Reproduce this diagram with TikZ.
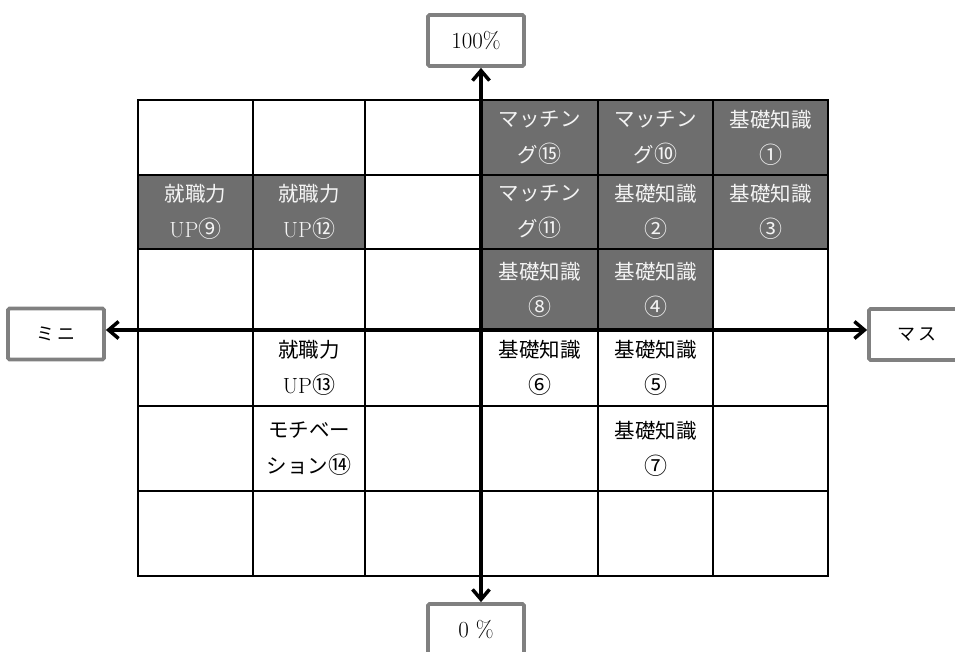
\documentclass[tikz,border=0pt]{standalone}
\usepackage{fontspec}
\newfontfamily\jp{Noto Sans CJK JP}
\usetikzlibrary{arrows.meta}
\definecolor{cellgray}{HTML}{6E6E6E}
\definecolor{boxgray}{HTML}{808080}
\definecolor{celltext}{HTML}{F4F4F4}
\newcommand\cnum[1]{{\fontsize{23}{36}\selectfont #1}}
\newcommand\up{{\normalfont\fontsize{22}{36}\selectfont UP}}
\begin{document}
\begin{tikzpicture}[x=1pt,y=-1pt,
  cell/.style={draw=black,line width=1.2pt,inner sep=0pt,outer sep=0pt,align=center,
    font=\jp\fontsize{20.5}{36}\selectfont},
  dark/.style={fill=cellgray,text=celltext},
  lbl/.style={draw=boxgray,line width=3.8pt,rounded corners=1.5pt,fill=white,inner sep=0pt,
    minimum width=96pt,minimum height=51pt,font=\fontsize{23}{26}\selectfont},
  thickline/.style={line width=2.4pt},
  axis/.style={line width=3.5pt,{Straight Barb[length=10pt,width=17pt]}-{Straight Barb[length=10pt,width=17pt]}}]
\useasboundingbox (0,0) rectangle (955,651);
\fill[white] (0,0) rectangle (955,651);
% columns: 138,253,365,481,598,713,828 ; rows: 100,175,249,330,406,491,576
\tikzset{
  r1/.style={minimum height=75pt}, r2/.style={minimum height=74pt},
  r3/.style={minimum height=81pt}, r4/.style={minimum height=76pt},
  r5/.style={minimum height=85pt}, r6/.style={minimum height=85pt},
  k1/.style={minimum width=115pt}, k2/.style={minimum width=112pt},
  k3/.style={minimum width=116pt}, k4/.style={minimum width=117pt},
  k5/.style={minimum width=115pt}, k6/.style={minimum width=115pt}}
% row 1
\node[cell,r1,k1] (c11) at (195.5,137.5) {};
\node[cell,r1,k2] (c12) at (309,137.5) {};
\node[cell,r1,k3] (c13) at (423,137.5) {};
\node[cell,r1,k4,dark] (c14) at (539.5,137.5) {マッチン\\グ\cnum{⑮}};
\node[cell,r1,k5,dark] (c15) at (655.5,137.5) {マッチン\\グ\cnum{⑩}};
\node[cell,r1,k6,dark] (c16) at (770.5,137.5) {基礎知識\\\cnum{①}};
% row 2
\node[cell,r2,k1,dark] (c21) at (195.5,212) {就職力\\\up\cnum{⑨}};
\node[cell,r2,k2,dark] (c22) at (309,212) {就職力\\\up\cnum{⑫}};
\node[cell,r2,k3] (c23) at (423,212) {};
\node[cell,r2,k4,dark] (c24) at (539.5,212) {マッチン\\グ\cnum{⑪}};
\node[cell,r2,k5,dark] (c25) at (655.5,212) {基礎知識\\\cnum{②}};
\node[cell,r2,k6,dark] (c26) at (770.5,212) {基礎知識\\\cnum{③}};
% row 3
\node[cell,r3,k1] (c31) at (195.5,289.5) {};
\node[cell,r3,k2] (c32) at (309,289.5) {};
\node[cell,r3,k3] (c33) at (423,289.5) {};
\node[cell,r3,k4,dark] (c34) at (539.5,289.5) {基礎知識\\\cnum{⑧}};
\node[cell,r3,k5,dark] (c35) at (655.5,289.5) {基礎知識\\\cnum{④}};
\node[cell,r3,k6] (c36) at (770.5,289.5) {};
% row 4
\node[cell,r4,k1] (c41) at (195.5,368) {};
\node[cell,r4,k2] (c42) at (309,368) {就職力\\\up\cnum{⑬}};
\node[cell,r4,k3] (c43) at (423,368) {};
\node[cell,r4,k4] (c44) at (539.5,368) {基礎知識\\\cnum{⑥}};
\node[cell,r4,k5] (c45) at (655.5,368) {基礎知識\\\cnum{⑤}};
\node[cell,r4,k6] (c46) at (770.5,368) {};
% row 5
\node[cell,r5,k1] (c51) at (195.5,448.5) {};
\node[cell,r5,k2] (c52) at (309,448.5) {モチベー\\ション\cnum{⑭}};
\node[cell,r5,k3] (c53) at (423,448.5) {};
\node[cell,r5,k4] (c54) at (539.5,448.5) {};
\node[cell,r5,k5] (c55) at (655.5,448.5) {基礎知識\\\cnum{⑦}};
\node[cell,r5,k6] (c56) at (770.5,448.5) {};
% row 6
\node[cell,r6,k1] (c61) at (195.5,533.5) {};
\node[cell,r6,k2] (c62) at (309,533.5) {};
\node[cell,r6,k3] (c63) at (423,533.5) {};
\node[cell,r6,k4] (c64) at (539.5,533.5) {};
\node[cell,r6,k5] (c65) at (655.5,533.5) {};
\node[cell,r6,k6] (c66) at (770.5,533.5) {};
% thicker grid lines
\draw[thickline] (c11.north west) -- (c61.south west);
\draw[thickline] (c11.south west) -- (c16.south east);
\draw[thickline] (c16.north west) -- (c66.south west);
\draw[thickline] (c61.south west) -- (c66.south east);
% label boxes
\node[lbl] (top) at (476,40.5) {100\%};
\node[lbl] (bot) at (476,629.5) {0 \%};
\node[lbl,font=\jp\fontsize{18}{20}\selectfont] (lt) at (56,334) {ミ\hspace{4pt}ニ};
\node[lbl,font=\jp\fontsize{18}{20}\selectfont] (rt) at (917,334.5) {マ\hspace{3pt}ス};
% axes
\coordinate (o) at (481,330);
\draw[axis] (o -| lt.east) -- (o -| rt.west);
\draw[axis] (o |- top.south) -- (o |- bot.north);
\end{tikzpicture}
\end{document}
